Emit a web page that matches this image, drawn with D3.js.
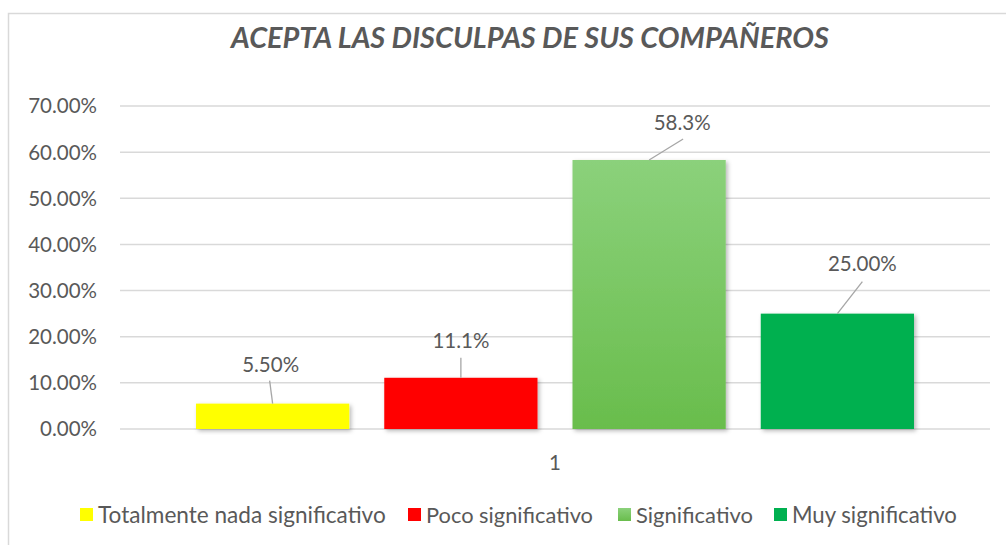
<!DOCTYPE html>
<html><head><meta charset="utf-8">
<script src="https://cdn.jsdelivr.net/npm/d3@7"></script>
<style>
html,body{margin:0;padding:0;background:#fff;overflow:hidden}
text{font-family:Lato,"Open Sans",sans-serif;fill:#595959}
</style></head>
<body>
<svg id="chart" width="1006" height="545"></svg>
<script>
const title = "ACEPTA LAS DISCULPAS DE SUS COMPAÑEROS";
const categories = ["1"];
const seriesNames = ["Totalmente nada significativo","Poco significativo","Significativo","Muy significativo"];
const seriesValues = [0.055, 0.111, 0.583, 0.25];
const valueLabels = ["5.50%","11.1%","58.3%","25.00%"];
const yTicks = [0,0.1,0.2,0.3,0.4,0.5,0.6,0.7];
const yTickLabels = ["0.00%","10.00%","20.00%","30.00%","40.00%","50.00%","60.00%","70.00%"];
const colors = ["#ffff00","#ff0000","url(#gradGreen)","#00b050"];
const legendColors = ["#ffff00","#ff0000","url(#gradGreenL)","#00b050"];
// label placement offsets relative to bar top center (layout)
const labelOffsets = [[-2,-39,-3,-23],[0,-37,0,-20],[33,-37,34,-21],[25,-50,25,-32]];

const svg = d3.select("#chart");
const defs = svg.append("defs");
const g1 = defs.append("linearGradient").attr("id","gradGreen").attr("x1",0).attr("x2",0).attr("y1",0).attr("y2",1);
g1.append("stop").attr("offset","0%").attr("stop-color","#8bd17b");
g1.append("stop").attr("offset","100%").attr("stop-color","#69bd4c");
const g2 = defs.append("linearGradient").attr("id","gradGreenL").attr("x1",0).attr("x2",0).attr("y1",0).attr("y2",1);
g2.append("stop").attr("offset","0%").attr("stop-color","#8bd17b");
g2.append("stop").attr("offset","100%").attr("stop-color","#69bd4c");
const f = defs.append("filter").attr("id","shadow").attr("x","-10%").attr("y","-10%").attr("width","130%").attr("height","130%");
f.append("feDropShadow").attr("dx",2).attr("dy",2).attr("stdDeviation",2).attr("flood-color","#000").attr("flood-opacity",0.28);

// chart border
svg.append("rect").attr("x",8.5).attr("y",13.5).attr("width",1010).attr("height",560)
  .attr("fill","#fff").attr("stroke","#d9d9d9").attr("stroke-width",1.5);

function fit(sel, w){
  const node = sel.node();
  const cur = parseFloat(sel.attr("font-size"));
  const len = node.getComputedTextLength();
  if(len>0) sel.attr("font-size", cur*w/len);
}

// title
const t = svg.append("text").attr("x",530).attr("y",48).attr("text-anchor","middle")
  .attr("font-size",26).attr("font-weight","bold").attr("font-style","italic").text(title);
fit(t, 598);

const plotL = 120, plotR = 990;
const y = d3.scaleLinear().domain([0,0.7]).range([429,106]);
const x0 = d3.scaleBand().domain(categories).range([plotL,plotR]).paddingInner(0).paddingOuter(0.0777);
const x1 = d3.scaleBand().domain(seriesNames).range([0,x0.bandwidth()]).paddingInner(0.186).paddingOuter(0.093);

// gridlines
svg.append("g").selectAll("line").data(yTicks).join("line")
  .attr("x1",plotL).attr("x2",plotR).attr("y1",d=>y(d)).attr("y2",d=>y(d))
  .attr("stroke","#d9d9d9").attr("stroke-width",1.5);

// y tick labels
const yl = svg.append("g").selectAll("text").data(yTicks).join("text")
  .attr("x",97).attr("y",d=>y(d)).attr("dy","0.36em").attr("text-anchor","end")
  .attr("font-size",20.5).text((d,i)=>yTickLabels[i]);

// category label
svg.append("text").attr("x",x0(categories[0])+x0.bandwidth()/2).attr("y",470).attr("text-anchor","middle")
  .attr("font-size",20.5).text(categories[0]);

// bars
const barG = svg.append("g");
seriesNames.forEach((s,i)=>{
  const bx = x0(categories[0]) + x1(s);
  barG.append("rect").attr("x",bx).attr("y",y(seriesValues[i]))
    .attr("width",x1.bandwidth()).attr("height",y(0)-y(seriesValues[i]))
    .attr("fill",colors[i]).attr("filter","url(#shadow)");
});

// data labels with leader lines
seriesNames.forEach((s,i)=>{
  const cx = x0(categories[0]) + x1(s) + x1.bandwidth()/2;
  const top = y(seriesValues[i]);
  const o = labelOffsets[i];
  svg.append("line").attr("x1",cx).attr("y1",top).attr("x2",cx+o[2]).attr("y2",top+o[3])
    .attr("stroke","#a6a6a6").attr("stroke-width",1.3);
  svg.append("text").attr("x",cx+o[0]).attr("y",top+o[1]).attr("dy","0.36em").attr("text-anchor","middle")
    .attr("font-size",20.5).text(valueLabels[i]);
});

// legend
const legendX = [80,408,618,774];
const legendW = [288,167,117,165];
seriesNames.forEach((s,i)=>{
  svg.append("rect").attr("x",legendX[i]).attr("y",508).attr("width",13).attr("height",13).attr("fill",legendColors[i]);
  const lt = svg.append("text").attr("x",legendX[i]+18).attr("y",515).attr("dy","0.36em")
    .attr("font-size",20).text(s);
  fit(lt, legendW[i]);
});
</script>
</body></html>
